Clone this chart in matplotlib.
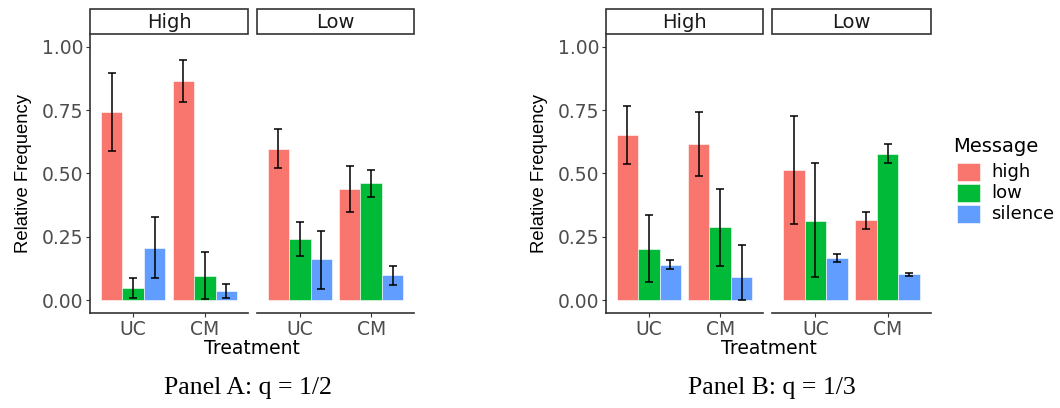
import numpy as np
import matplotlib
matplotlib.use('Agg')
import matplotlib.pyplot as plt
from matplotlib.patches import Rectangle

#%% Data
facets = ['High', 'Low']
treatments = ['UC', 'CM']
messages = ['high', 'low', 'silence']
colors = ['#F8766D', '#00BA38', '#619CFF']

# Panel A: q = 1/2 -> [facet][treatment][message]
a_mean = [[[0.741, 0.047, 0.208], [0.864, 0.096, 0.036]],
          [[0.598, 0.241, 0.161], [0.438, 0.462, 0.099]]]
a_lo = [[[0.587, 0.011, 0.088], [0.782, 0.004, 0.008]],
        [[0.522, 0.174, 0.046], [0.350, 0.409, 0.062]]]
a_hi = [[[0.896, 0.088, 0.330], [0.947, 0.191, 0.066]],
        [[0.675, 0.307, 0.274], [0.528, 0.515, 0.137]]]

# Panel B: q = 1/3
b_mean = [[[0.650, 0.204, 0.141], [0.615, 0.288, 0.092]],
          [[0.515, 0.313, 0.166], [0.315, 0.577, 0.103]]]
b_lo = [[[0.536, 0.074, 0.125], [0.489, 0.137, 0.000]],
        [[0.302, 0.090, 0.150], [0.282, 0.540, 0.096]]]
b_hi = [[[0.768, 0.336, 0.158], [0.743, 0.439, 0.218]],
        [[0.728, 0.541, 0.183], [0.348, 0.615, 0.109]]]

plt.rcParams['font.family'] = ['DejaVu Sans']
fs = 13.5

W, H = 1060, 408
fig = plt.figure(figsize=(W / 100, H / 100), dpi=100)


def px_axes(x0, x1, ytop, ybot):
    return fig.add_axes([x0 / W, (H - ybot) / H, (x1 - x0) / W, (ybot - ytop) / H])


def draw_panel(xpos, mean, lo, hi, title, title_x):
    for f, (x0, x1) in enumerate(xpos):
        ax = px_axes(x0, x1, 34, 313)
        x = np.arange(len(treatments)) + 1
        bw = 0.3
        for m in range(len(messages)):
            vals = np.array([mean[f][t][m] for t in range(2)])
            l = np.array([lo[f][t][m] for t in range(2)])
            h = np.array([hi[f][t][m] for t in range(2)])
            xs = x + (m - 1) * bw
            ax.bar(xs, vals, width=bw, color=colors[m], edgecolor='white',
                   linewidth=0.4, zorder=2)
            ax.errorbar(xs, vals, yerr=[vals - l, h - vals], fmt='none',
                        ecolor='black', elinewidth=1.1, capsize=2.8,
                        capthick=1.1, zorder=3)
        ax.set_xlim(0.4, 2.6)
        ax.set_ylim(-0.05, 1.05)
        ax.set_xticks(x)
        ax.set_xticklabels(treatments, fontsize=fs, color='#4D4D4D')
        ax.tick_params(axis='x', length=3, color='#333333', pad=2)
        for s in ['top', 'right']:
            ax.spines[s].set_visible(False)
        ax.spines['bottom'].set_color('#333333')
        ax.spines['bottom'].set_linewidth(1.2)
        if f == 0:
            ax.set_yticks([0, 0.25, 0.5, 0.75, 1.0])
            ax.set_yticklabels(['0.00', '0.25', '0.50', '0.75', '1.00'],
                               fontsize=fs, color='#4D4D4D')
            ax.tick_params(axis='y', length=3, color='#333333', pad=2)
            ax.spines['left'].set_color('#333333')
            ax.spines['left'].set_linewidth(1.2)
            ax.set_ylabel('Relative Frequency', fontsize=13.3, labelpad=7,
                          family='Liberation Sans')
        else:
            ax.set_yticks([])
            ax.spines['left'].set_visible(False)
        # strip
        sax = px_axes(x0, x1, 8.5, 34)
        sax.add_patch(Rectangle((0, 0), 1, 1, transform=sax.transAxes,
                                facecolor='white', edgecolor='#333333',
                                linewidth=1.2, clip_on=False))
        sax.text(0.5, 0.45, facets[f], ha='center', va='center',
                 fontsize=14, color='#1A1A1A')
        sax.set_axis_off()
    mid = (xpos[0][0] + xpos[1][1]) / 2
    fig.text(mid / W, 1 - 348 / H, 'Treatment', ha='center', va='center',
             fontsize=fs)
    fig.text(title_x / W, 1 - 388 / H, title, ha='center', va='center',
             fontsize=18.5, family=['Liberation Serif', 'DejaVu Serif'])


draw_panel([(90, 248), (257, 414)], a_mean, a_lo, a_hi,
           'Panel A: q = 1/2', 248)
draw_panel([(606, 763), (772, 931)], b_mean, b_lo, b_hi,
           'Panel B: q = 1/3', 772)

# legend
fig.text(953 / W, 1 - 146 / H, 'Message', ha='left', va='center', fontsize=14)
for m, name in enumerate(messages):
    yc = 172 + m * 21
    fig.patches.append(Rectangle((957 / W, 1 - (yc + 9) / H), 23 / W, 18 / H,
                                 transform=fig.transFigure, facecolor=colors[m],
                                 edgecolor='white', linewidth=0.4))
    fig.text(991 / W, 1 - yc / H, name, ha='left', va='center', fontsize=13)

fig.savefig('out.png', dpi=100)
